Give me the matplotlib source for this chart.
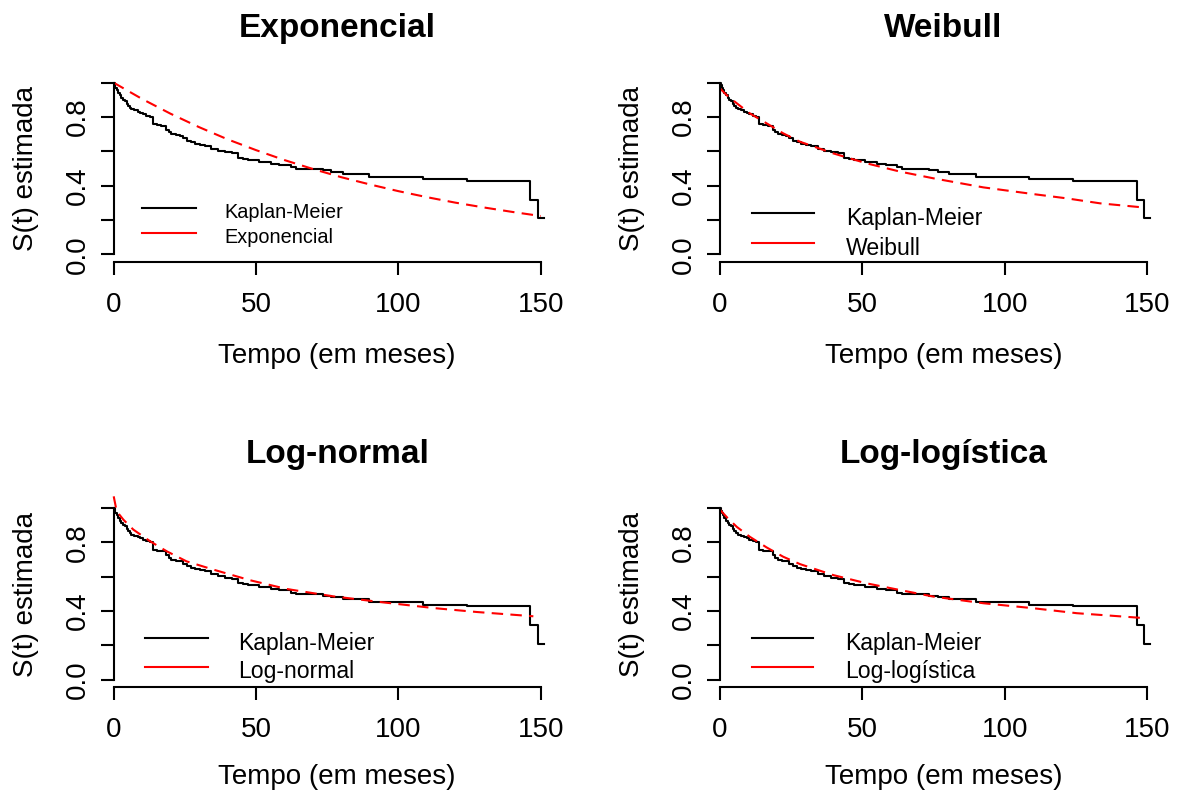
import matplotlib
matplotlib.use('Agg')
import matplotlib.pyplot as plt
from matplotlib.lines import Line2D

plt.rcParams['font.family'] = ['Liberation Sans', 'DejaVu Sans']

W, H = 1179, 791

# Kaplan-Meier estimate (same in all panels)
km_time = [0, 0.3, 0.6, 1.0, 1.5, 2.1, 2.7, 3.3, 3.9, 4.5, 5.0, 5.6, 6.2, 7.3, 8.5, 9.4,
           10.3, 11.5, 12.6, 13.8, 15.2, 16.7, 18.5, 19.4, 20.3, 21.8, 23.2, 24.4, 25.6,
           27.0, 28.5, 30.2, 32.0, 34.3, 36.7, 39.0, 41.4, 43.7, 45.4, 47.2, 51.0, 55.3,
           58.2, 62.3, 64.1, 73.4, 76.4, 80.5, 89.8, 108.5, 124.0, 146.3, 149.0]
km_surv = [1.0, 0.985, 0.971, 0.957, 0.942, 0.927, 0.912, 0.902, 0.893, 0.878, 0.864,
           0.855, 0.845, 0.838, 0.831, 0.823, 0.815, 0.808, 0.802, 0.757, 0.752, 0.747,
           0.724, 0.711, 0.699, 0.694, 0.689, 0.675, 0.660, 0.652, 0.644, 0.637, 0.630,
           0.615, 0.601, 0.594, 0.588, 0.562, 0.555, 0.549, 0.538, 0.529, 0.520, 0.506,
           0.498, 0.490, 0.480, 0.467, 0.451, 0.437, 0.429, 0.317, 0.210]
km_end = 151.0

# Fitted parametric survival curves
exp_time = [0, 10, 20, 30, 40, 50, 60, 70, 80, 90, 100, 110, 120, 130, 140, 150]
exp_surv = [1.0, 0.905, 0.819, 0.741, 0.670, 0.607, 0.549, 0.497, 0.449, 0.407,
            0.368, 0.333, 0.301, 0.273, 0.247, 0.223]

wei_time = [0, 2.3, 5.9, 10.5, 16.4, 22.2, 28.1, 39.8, 51.5, 63.2, 74.9, 92.5, 110.0,
            121.8, 133.5, 149.3]
wei_surv = [0.967, 0.928, 0.880, 0.821, 0.763, 0.705, 0.656, 0.588, 0.530, 0.482,
            0.443, 0.390, 0.351, 0.326, 0.297, 0.272]

lnorm_time = [0, 1.05, 3.4, 6.9, 12.8, 18.6, 25.6, 35.0, 47.9, 60.8, 77.2, 94.7,
              112.3, 127.5, 147.4]
lnorm_surv = [1.068, 0.981, 0.932, 0.874, 0.806, 0.748, 0.689, 0.641, 0.579, 0.528,
              0.485, 0.450, 0.417, 0.394, 0.369]

llog_time = [0, 2.3, 5.9, 10.5, 16.4, 22.2, 28.1, 39.8, 51.5, 63.2, 74.9, 92.5, 110.0,
             125.3, 149.3]
llog_surv = [0.990, 0.948, 0.890, 0.832, 0.770, 0.716, 0.673, 0.609, 0.561, 0.522,
             0.484, 0.445, 0.416, 0.387, 0.358]

titles = ['Exponencial', 'Weibull', 'Log-normal', 'Log-logística']
legend_labels = ['Kaplan-Meier', 'Exponencial', 'Weibull', 'Log-normal', 'Log-logística']
x_ticks = [0, 50, 100, 150]
y_ticks = [0.0, 0.2, 0.4, 0.6, 0.8, 1.0]
y_ticklabels = ['0.0', '', '0.4', '', '0.8', '']
xlabel = 'Tempo (em meses)'
ylabel = 'S(t) estimada'

fig = plt.figure(figsize=(W / 100, H / 100), dpi=100)

SX = 2.847   # px per month
SY = 171.6   # px per unit survival
XLIM = (0, 157)
YLIM = (-0.045, 1.04)
LW = 1.5


def fx(x):
    return x / W


def fy(y):
    return 1 - y / H


panels = [
    dict(x0=113.7, y1=82.7, t=exp_time, s=exp_surv, title=titles[0], lab=legend_labels[1],
         leg=dict(lx=(142, 196), ly=(208.3, 233.3), tx=224, tb=(218.3, 243.3), fs=14.3),
         tbase=37.3, xbase=363.0),
    dict(x0=720.0, y1=82.7, t=wei_time, s=wei_surv, title=titles[1], lab=legend_labels[2],
         leg=dict(lx=(752, 814), ly=(213.3, 243.3), tx=846, tb=(225.0, 255.0), fs=16.6),
         tbase=37.3, xbase=363.0),
    dict(x0=113.7, y1=508.0, t=lnorm_time, s=lnorm_surv, title=titles[2], lab=legend_labels[3],
         leg=dict(lx=(145, 207.7), ly=(638.3, 666.7), tx=238, tb=(650.0, 678.3), fs=16.6),
         tbase=462.6, xbase=784.0),
    dict(x0=720.0, y1=508.0, t=llog_time, s=llog_surv, title=titles[3], lab=legend_labels[4],
         leg=dict(lx=(751.7, 813.3), ly=(638.3, 666.7), tx=845, tb=(650.0, 678.3), fs=16.6),
         tbase=462.6, xbase=784.0),
]

for p in panels:
    left = p['x0'] + XLIM[0] * SX
    right = p['x0'] + XLIM[1] * SX
    top = p['y1'] - (YLIM[1] - 1.0) * SY
    bottom = p['y1'] + (1.0 - YLIM[0]) * SY
    ax = fig.add_axes([fx(left), fy(bottom), (right - left) / W, (bottom - top) / H])
    ax.set_xlim(*XLIM)
    ax.set_ylim(*YLIM)

    ax.step(km_time + [km_end], km_surv + [km_surv[-1]], where='post', color='black', lw=LW)
    ax.plot(p['t'], p['s'], color='red', lw=LW, dashes=(5.5, 3.5), clip_on=False)

    for sp in ('top', 'right'):
        ax.spines[sp].set_visible(False)
    ax.spines['left'].set_bounds(0, 1)
    ax.spines['bottom'].set_bounds(0, 150)
    for sp in ('left', 'bottom'):
        ax.spines[sp].set_linewidth(LW)

    ax.set_xticks(x_ticks)
    ax.set_xticklabels([str(v) for v in x_ticks])
    ax.set_yticks(y_ticks)
    ax.set_yticklabels(y_ticklabels)
    ax.tick_params(axis='both', length=9.4, width=LW, labelsize=20, direction='out')
    ax.tick_params(axis='x', pad=12)
    ax.tick_params(axis='y', pad=7)
    for lab in ax.get_yticklabels():
        lab.set_rotation(90)
        lab.set_va('center')

    cx = (left + right) / 2
    cy = (top + bottom) / 2
    fig.text(fx(cx), fy(p['tbase']), p['title'], ha='center', va='baseline',
             fontsize=24, fontweight='bold')
    fig.text(fx(cx), fy(p['xbase']), xlabel, ha='center', va='baseline', fontsize=20)
    fig.text(fx(p['x0'] - 80.7), fy(cy), ylabel, ha='center', va='baseline', rotation=90,
             rotation_mode='anchor', fontsize=20)

    g = p['leg']
    for (ly, tb, col, lab) in zip(g['ly'], g['tb'], ['black', 'red'],
                                  [legend_labels[0], p['lab']]):
        fig.add_artist(Line2D([fx(g['lx'][0]), fx(g['lx'][1])], [fy(ly), fy(ly)],
                              color=col, lw=LW))
        fig.text(fx(g['tx']), fy(tb), lab, ha='left', va='baseline', fontsize=g['fs'])

fig.savefig('out.png', dpi=100)
